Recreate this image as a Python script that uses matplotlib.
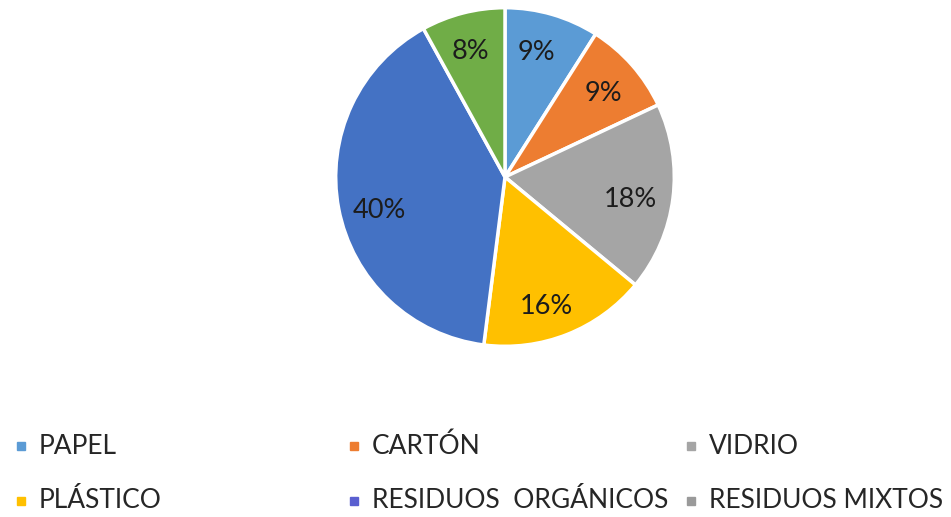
import matplotlib.pyplot as plt
import numpy as np
from matplotlib.patches import Rectangle

categorias = ['PAPEL', 'CARTÓN', 'VIDRIO', 'PLÁSTICO', 'RESIDUOS  ORGÁNICOS', 'RESIDUOS MIXTOS']
porcentajes = [9, 9, 18, 16, 40, 8]
colores = ['#5B9BD5', '#ED7D31', '#A5A5A5', '#FFC000', '#4472C4', '#70AD47']
colores_leyenda = ['#5B9BD5', '#ED7D31', '#A5A5A5', '#FFC000', '#5A5FD0', '#9A9A9A']

# distancia radial de cada etiqueta (fraccion del radio) y desvio angular en grados
dist_etiqueta = [0.76, 0.76, 0.75, 0.80, 0.77, 0.77]
desvio_ang = [2, -1, -3, -4, 4, 1]

plt.rcParams['font.family'] = ['Lato', 'DejaVu Sans']

W, H = 951, 517
fig = plt.figure(figsize=(W / 100, H / 100), dpi=100)
fig.patch.set_facecolor('white')

cx, cy, r = 505, 177, 171
ax = fig.add_axes([(cx - r) / W, (H - cy - r) / H, 2 * r / W, 2 * r / H])

wedges, _ = ax.pie(porcentajes, colors=colores, startangle=90, counterclock=False,
                   wedgeprops=dict(edgecolor='white', linewidth=2.5))
ax.set_xlim(-1.01, 1.01)
ax.set_ylim(-1.01, 1.01)
ax.set_aspect('equal')
ax.axis('off')

for w, p, d, da in zip(wedges, porcentajes, dist_etiqueta, desvio_ang):
    ang = np.deg2rad((w.theta1 + w.theta2) / 2 + da)
    ax.text(d * np.cos(ang), d * np.sin(ang), f'{p}%', ha='center', va='center',
            fontsize=19.5, color='#1c1c1c')

# leyenda en tres columnas
col_x = [21, 354, 691]
fila_y = [446, 501]
for i, (nombre, c) in enumerate(zip(categorias, colores_leyenda)):
    x = col_x[i % 3]
    y = fila_y[i // 3]
    fig.patches.append(Rectangle(((x - 4) / W, (H - y - 4) / H), 8 / W, 8 / H,
                                 transform=fig.transFigure, color=c))
    fig.text((x + 18) / W, (H - y) / H, nombre, ha='left', va='center',
             fontsize=19, color='#262626')

plt.savefig('out.png', dpi=100)
